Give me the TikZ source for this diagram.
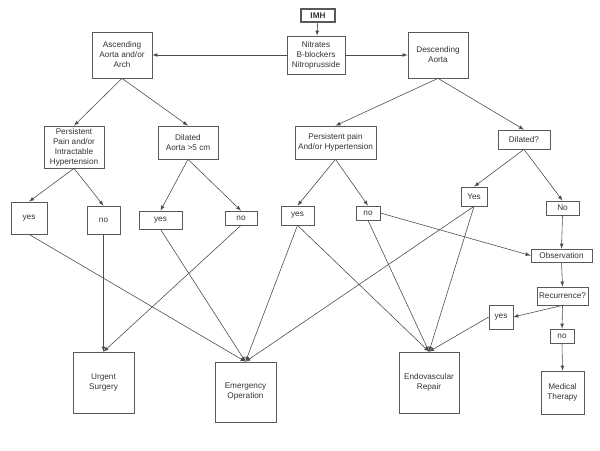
\documentclass[tikz,border=0pt]{standalone}
\usepackage{fontspec}
\setmainfont{Liberation Sans}
\usepackage{tikz}
\usetikzlibrary{arrows}

\begin{document}
\begin{tikzpicture}[x=0.03cm, y=-0.03cm, font=\fontsize{7}{8.5}\selectfont]
\tikzstyle{box} = [rectangle, draw=black!65, line width=0.6 pt, text=black!80, align=center, inner sep=1 pt]
\tikzstyle{link} = [-latex, draw=black!70, line width=0.5 pt]
\useasboundingbox (0,0) rectangle (600,450);

% top
\node (imh)  [box, line width=1.1 pt, minimum width=1.02 cm, minimum height=0.39 cm] at (318,15.5) {\textbf{IMH}};
\node (nitr) [box, minimum width=1.74 cm, minimum height=1.14 cm] at (316,55) {Nitrates\\B-blockers\\Nitroprusside};
\node (asc)  [box, minimum width=1.8 cm, minimum height=1.38 cm] at (122,55) {Ascending\\Aorta and/or\\Arch};
\node (desc) [box, minimum width=1.8 cm, minimum height=1.38 cm] at (438,55) {Descending\\Aorta};

% questions
\node (painL) [box, minimum width=1.8 cm, minimum height=1.26 cm] at (74,147) {Persistent\\Pain and/or\\Intractable\\Hypertension};
\node (dilL)  [box, minimum width=1.8 cm, minimum height=0.99 cm] at (188,142.5) {Dilated\\Aorta >5 cm};
\node (painR) [box, minimum width=2.43 cm, minimum height=0.99 cm] at (335.5,142.5) {Persistent pain\\And/or Hypertension};
\node (dilR)  [box, minimum width=1.56 cm, minimum height=0.57 cm] at (524,139.5) {Dilated?};

% answers
\node (yesA) [box, minimum width=1.08 cm, minimum height=0.96 cm] at (29,218) {yes};
\node (noA)  [box, minimum width=0.99 cm, minimum height=0.84 cm] at (103.5,220) {no};
\node (yesB) [box, minimum width=1.29 cm, minimum height=0.54 cm] at (160.5,220) {yes};
\node (noB)  [box, minimum width=0.96 cm, minimum height=0.42 cm] at (241,218) {no};
\node (yesC) [box, minimum width=0.99 cm, minimum height=0.57 cm] at (297.5,215.5) {yes};
\node (noC)  [box, minimum width=0.72 cm, minimum height=0.42 cm] at (368,213) {no};
\node (yesD) [box, minimum width=0.78 cm, minimum height=0.57 cm] at (474,196.5) {Yes};
\node (noD)  [box, minimum width=0.99 cm, minimum height=0.42 cm] at (562.5,208) {No};
\node (obs)  [box, minimum width=1.83 cm, minimum height=0.39 cm] at (561.5,255.5) {Observation};
\node (rec)  [box, minimum width=1.53 cm, minimum height=0.54 cm] at (562.5,296) {Recurrence?};
\node (yesE) [box, minimum width=0.72 cm, minimum height=0.72 cm] at (501,317) {yes};
\node (noE)  [box, minimum width=0.72 cm, minimum height=0.42 cm] at (562,336) {no};

% outcomes
\node (urg)  [box, minimum width=1.83 cm, minimum height=1.83 cm] at (103.5,382.5) {Urgent\\Surgery};
\node (emer) [box, minimum width=1.83 cm, minimum height=1.8 cm] at (245.5,392) {Emergency\\Operation};
\node (endo) [box, minimum width=1.8 cm, minimum height=1.83 cm] at (429,382.5) {Endovascular\\Repair};
\node (med)  [box, minimum width=1.29 cm, minimum height=1.29 cm] at (562.5,392.5) {Medical\\Therapy};

\draw [link] (imh) -- (nitr);
\draw [link] (nitr) -- (asc);
\draw [link] (nitr) -- (desc);
\draw [link] (asc.south) -- (painL.north);
\draw [link] (asc.south) -- (dilL.north);
\draw [link] (desc.south) -- (painR.north);
\draw [link] (desc.south) -- (dilR.north);
\draw [link] (painL.south) -- (yesA.north);
\draw [link] (painL.south) -- (noA.north);
\draw [link] (dilL.south) -- (yesB.north);
\draw [link] (dilL.south) -- (noB.north);
\draw [link] (painR.south) -- (yesC.north);
\draw [link] (painR.south) -- (noC.north);
\draw [link] (dilR.south) -- (yesD.north);
\draw [link] (dilR.south) -- (noD.north);
\draw [link] (noD.south) -- (obs.north);
\draw [link] (noC.east) -- (obs.west);
\draw [link] (obs.south) -- (rec.north);
\draw [link] (rec.south) -- (yesE.east);
\draw [link] (rec.south) -- (noE.north);
\draw [link] (noE.south) -- (med.north);

\draw [link] (noA.south) -- (urg.north);
\draw [link] (noB.south) -- (urg.north);
\draw [link] (yesA.south) -- (emer.north);
\draw [link] (yesB.south) -- (emer.north);
\draw [link] (yesC.south) -- (emer.north);
\draw [link] (yesD.south) -- (emer.north);
\draw [link] (yesC.south) -- (endo.north);
\draw [link] (noC.south) -- (endo.north);
\draw [link] (yesD.south) -- (endo.north);
\draw [link] (yesE.west) -- (endo.north);

\end{tikzpicture}
\end{document}
